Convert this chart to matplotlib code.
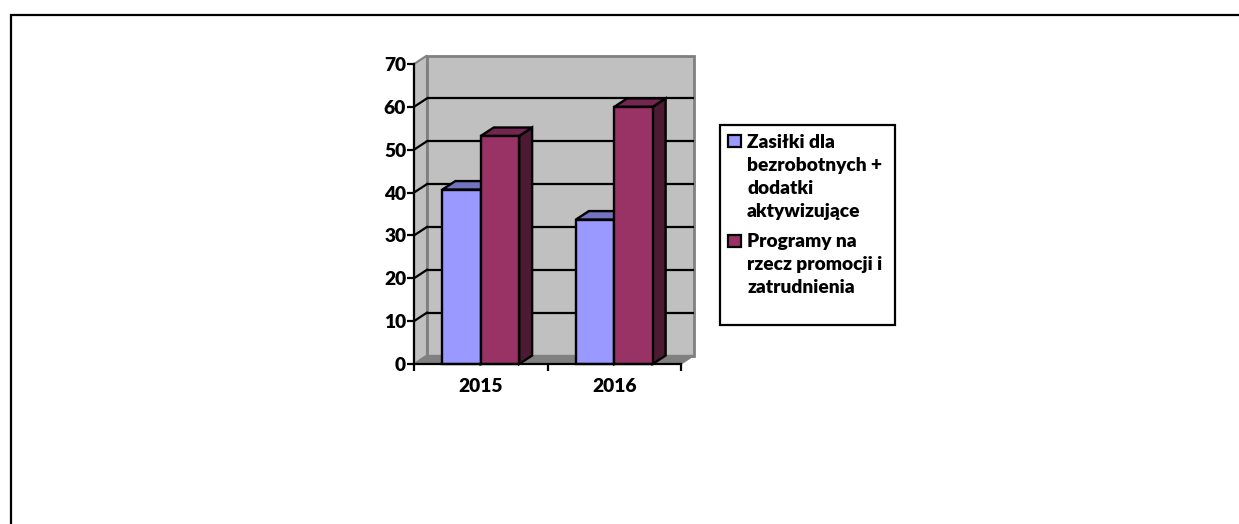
import matplotlib
matplotlib.use("Agg")
import matplotlib.pyplot as plt
from matplotlib.patches import Polygon, Rectangle
from matplotlib.transforms import ScaledTranslation
from matplotlib.lines import Line2D

categories = ["2015", "2016"]
series_names = ["Zasiłki dla\nbezrobotnych +\ndodatki\naktywizujące",
                "Programy na\nrzecz promocji i\nzatrudnienia"]
zasilki = [40.7, 33.7]
programy = [53.2, 60]
y_ticks = [0, 10, 20, 30, 40, 50, 60, 70]

W, H = 1239, 524
FS = 13.8
WEIGHT = 'heavy'
plt.rcParams['font.family'] = ['Lato', 'DejaVu Sans']
fig = plt.figure(figsize=(W / 100, H / 100), dpi=100, facecolor='white')

# page frame
fig.add_artist(Line2D([11 / W, 11 / W, 1], [0, 1 - 15 / H, 1 - 15 / H], color='black', lw=1.6,
                      solid_joinstyle='miter', transform=fig.transFigure))

L, R, T, B = 414, 681, 64, 364
ax = fig.add_axes([L / W, 1 - B / H, (R - L) / W, (B - T) / H])
ax.set_xlim(0, 2)
ax.set_ylim(0, 70)
ax.patch.set_visible(False)
for s in ['top', 'right']:
    ax.spines[s].set_visible(False)
for s in ['left', 'bottom']:
    ax.spines[s].set_linewidth(1.6)
    ax.spines[s].set_zorder(6)

dx, dy = 13, 8.5
depth = ScaledTranslation(dx / 100, dy / 100, fig.dpi_scale_trans)
back = ax.transData + depth
GREY = '#C0C0C0'
EDGE = '#808080'

def quad(pts, **kw):
    ax.add_patch(Polygon(pts, closed=True, clip_on=False, **kw))

def mix(p_front, p_back):
    inv = ax.transData.inverted()
    return inv.transform(ax.transData.transform(p_front)), inv.transform(back.transform(p_back))

# back wall
ax.add_patch(Rectangle((0, 0), 2, 70, transform=back, facecolor=GREY, edgecolor=EDGE, lw=2, clip_on=False, zorder=1))
# side wall
a, b = mix((0, 0), (0, 0))
c, d = mix((0, 70), (0, 70))
quad([a, b, d, c], facecolor=GREY, edgecolor=EDGE, lw=1.5, zorder=1)
# floor
e, f = mix((2, 0), (2, 0))
quad([a, e, f, b], facecolor='#808080', edgecolor='#808080', lw=1, zorder=1.5)

# gridlines
for v in y_ticks[1:-1]:
    ax.plot([0, 2], [v, v], transform=back, color='black', lw=1.6, clip_on=False, zorder=2, solid_capstyle='butt')
    p, q = mix((0, v), (0, v))
    ax.plot([p[0], q[0]], [p[1], q[1]], color='black', lw=1.6, clip_on=False, zorder=2)

# bars
width = 0.2875
def bar3d(x0, v, front, top, side):
    p0, p1 = x0, x0 + width
    a1, b1 = mix((p1, 0), (p1, 0))
    c1, d1 = mix((p1, v), (p1, v))
    c0, d0 = mix((p0, v), (p0, v))
    quad([a1, b1, d1, c1], facecolor=side, edgecolor='black', lw=1.7, joinstyle='miter', zorder=3)
    quad([c0, c1, d1, d0], facecolor=top, edgecolor='black', lw=1.7, joinstyle='miter', zorder=3)
    ax.add_patch(Rectangle((p0, 0), width, v, facecolor=front, edgecolor='black', lw=1.7, zorder=4, clip_on=False))

for i in range(len(categories)):
    bar3d(i + 0.5 - width, zasilki[i], '#9999FF', '#7373BF', '#4D4D80')
    bar3d(i + 0.5, programy[i], '#993366', '#732650', '#4D1A33')

# axes ticks and labels
ax.set_yticks(y_ticks)
ax.set_xticks([0, 1, 2])
ax.set_xticklabels([])
ax.tick_params(axis='y', length=5, width=1.6, pad=0.6, labelsize=FS)
ax.tick_params(axis='x', length=5, width=1.6)
for lab in ax.get_yticklabels():
    lab.set_fontweight(WEIGHT)
for i, c_ in enumerate(categories):
    ax.annotate(c_, (i + 0.5, 0), xytext=(0, -23), textcoords='offset pixels', ha='center', va='center',
                fontsize=FS, fontweight=WEIGHT, annotation_clip=False)

# legend box
lx0, lx1, ly0, ly1 = 719.5, 895, 125, 325
fig.add_artist(Rectangle((lx0 / W, 1 - ly1 / H), (lx1 - lx0) / W, (ly1 - ly0) / H, transform=fig.transFigure,
                         facecolor='white', edgecolor='black', lw=1.6))
for y_s, col, name, y_t in [(141, '#9999FF', series_names[0], 133.5),
                            (241, '#993366', series_names[1], 232.5)]:
    fig.add_artist(Rectangle((728 / W, 1 - (y_s + 6) / H), 13 / W, 12 / H, transform=fig.transFigure,
                             facecolor=col, edgecolor='black', lw=1.6))
    fig.text(747 / W, 1 - y_t / H, name, ha='left', va='top', fontsize=FS, fontweight=WEIGHT, linespacing=1.43)

fig.savefig('out.png', dpi=100)
